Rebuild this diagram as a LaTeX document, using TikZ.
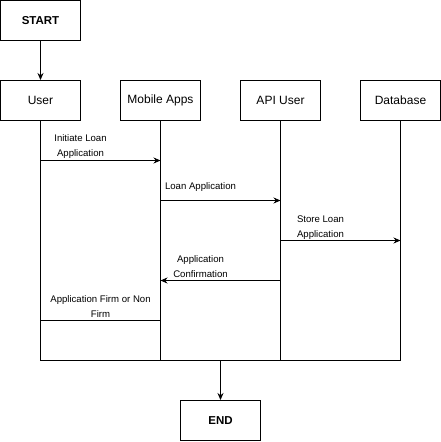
\documentclass[tikz,border=0pt]{standalone}
\usepackage{fontspec}
\setmainfont{Liberation Sans}
\usetikzlibrary{arrows.meta}
\begin{document}
\begin{tikzpicture}[x=1pt,y=-1pt,
  box/.style={draw,line width=1pt,minimum width=80pt,minimum height=40pt,inner sep=0pt,font=\fontsize{12}{14}\selectfont},
  endbox/.style={box,font=\fontsize{11.5}{14}\selectfont\bfseries},
  life/.style={line width=1pt},
  msg/.style={line width=1pt,-{Stealth[length=7pt,width=6pt]}},
  lbl/.style={align=center,inner sep=0pt,font=\fontsize{9.6}{15}\selectfont}]
\useasboundingbox (-0.5,-0.5) rectangle (440.5,441.5);
\node[endbox] (start) at (40,20) {START};
\node[box] (user) at (40,100) {User};
\node[box] (mob) at (160,100) {Mobile Apps};
\node[box] (api) at (280,100) {API User};
\node[box] (db) at (400,100) {Database};
\node[endbox] (end) at (220,420) {END};
\coordinate (ub) at (40,360);
\coordinate (mb) at (160,360);
\coordinate (ab) at (280,360);
\coordinate (db2) at (400,360);
\coordinate (mid) at (220,360);
\draw[msg] (start) -- (user);
\draw[life] (user) -- (ub);
\draw[life] (mob) -- (mb);
\draw[life] (api) -- (ab);
\draw[life] (db) -- (db2);
\draw[life] (ub) -- (db2);
\draw[msg] (mid) -- (end);
% messages
\coordinate (u1) at (40,160);
\coordinate (m1) at (160,160);
\draw[msg] (u1) -- (m1);
\node[lbl] (l1) at (80,146) {Initiate Loan\\Application};
\coordinate (m2) at (160,200);
\coordinate (a2) at (280,200);
\draw[msg] (m2) -- (a2);
\node[lbl] (l2) at (200,187) {Loan Application};
\coordinate (a3) at (280,240);
\coordinate (d3) at (400,240);
\draw[msg] (a3) -- (d3);
\node[lbl] (l3) at (320,227) {Store Loan\\Application};
\coordinate (a4) at (280,280);
\coordinate (m4) at (160,280);
\draw[msg] (a4) -- (m4);
\node[lbl] (l4) at (200,266) {Application\\Confirmation};
\coordinate (u5) at (40,320);
\coordinate (m5) at (160,320);
\draw[life] (u5) -- (m5);
\node[lbl] (l5) at (100,306) {Application Firm or Non\\Firm};
\end{tikzpicture}
\end{document}
